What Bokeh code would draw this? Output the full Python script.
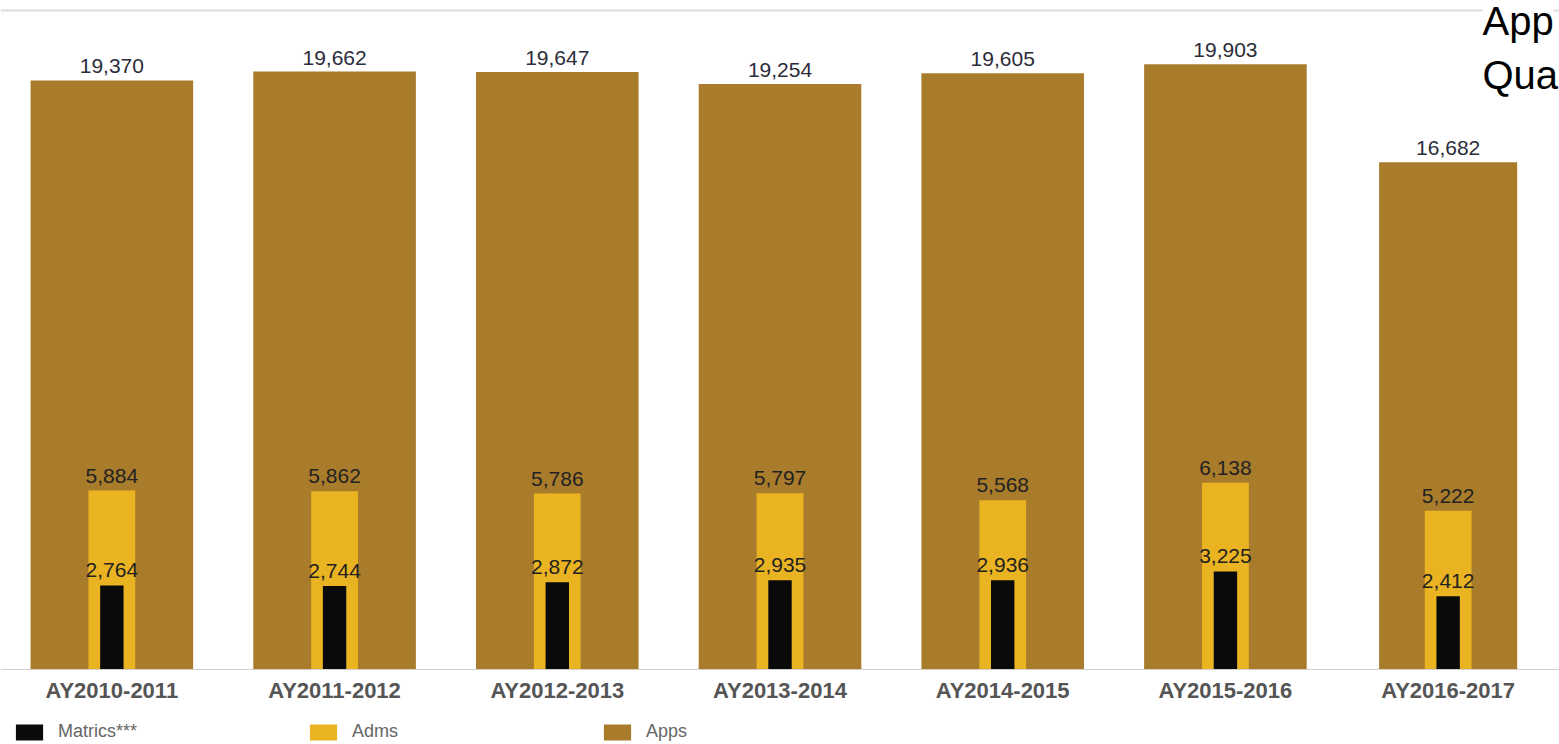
from bokeh.plotting import figure
from bokeh.models import (ColumnDataSource, FactorRange, Range1d, Legend,
                          LegendItem, Label, Span)
from bokeh.core.properties import value
from bokeh.embed import file_html
from bokeh.resources import INLINE

# Academic-year admissions funnel
years = ["AY2010-2011", "AY2011-2012", "AY2012-2013", "AY2013-2014",
         "AY2014-2015", "AY2015-2016", "AY2016-2017"]
apps = [19370, 19662, 19647, 19254, 19605, 19903, 16682]
adms = [5884, 5862, 5786, 5797, 5568, 6138, 5222]
matrics = [2764, 2744, 2872, 2935, 2936, 3225, 2412]
series_names = ["Matrics***", "Adms", "Apps"]

APPS_COLOR = "#A97C2C"
ADMS_COLOR = "#EAB321"
MATRICS_COLOR = "#0A0A0A"
FONT = "Liberation Sans"

W, H = 1559, 744
PLOT_BOTTOM_PX = 669          # pixel row of the bar baseline
Y_TOP = 22000
y_per_px = Y_TOP / PLOT_BOTTOM_PX
Y_BOTTOM = -(H - PLOT_BOTTOM_PX) * y_per_px   # room for axis + legend

src = ColumnDataSource(dict(
    years=years,
    apps=apps,
    adms=adms,
    matrics=matrics,
    apps_txt=[f"{v:,}" for v in apps],
    adms_txt=[f"{v:,}" for v in adms],
    matrics_txt=[f"{v:,}" for v in matrics],
    apps_w=[0.73] * 6 + [0.62],
))

p = figure(x_range=FactorRange(*years, range_padding=0),
           y_range=Range1d(Y_BOTTOM, Y_TOP),
           width=W, height=H,
           y_axis_location=None,
           output_backend="svg", toolbar_location=None,
           min_border_left=0, min_border_right=0,
           min_border_top=0, min_border_bottom=0)
p.outline_line_color = None
p.grid.visible = False
p.background_fill_color = "white"

# thin rule across the top of the chart
p.add_layout(Span(location=Y_TOP - 10 * y_per_px, dimension="width",
                  line_color="#dcdcdc", line_width=2))

r_apps = p.vbar(x="years", top="apps", bottom=0, width="apps_w", source=src,
                fill_color=APPS_COLOR, line_color=None)
r_adms = p.vbar(x="years", top="adms", bottom=0, width=0.21, source=src,
                fill_color=ADMS_COLOR, line_color=None)
r_mat = p.vbar(x="years", top="matrics", bottom=0, width=0.105, source=src,
               fill_color=MATRICS_COLOR, line_color=None)

label_style = dict(text_align="center", text_baseline="bottom",
                   text_font=value(FONT), text_font_size="21px",
                   source=src)
p.text(x="years", y="apps", text="apps_txt", y_offset=-7,
       text_color="#2c2c3a", **label_style)
p.text(x="years", y="adms", text="adms_txt", y_offset=-8,
       text_color="#222222", **label_style)
p.text(x="years", y="matrics", text="matrics_txt", y_offset=-8,
       text_color="#222222", **label_style)

# category axis pinned to the zero line
ax = p.xaxis[0]
ax.fixed_location = 0
ax.axis_line_color = "#cfcfcf"
ax.axis_line_width = 1
ax.major_tick_line_color = None
ax.minor_tick_line_color = None
ax.major_tick_out = 0
ax.major_tick_in = 0
ax.major_label_standoff = 8
ax.major_label_text_font = FONT
ax.major_label_text_font_style = "bold"
ax.major_label_text_font_size = "22px"
ax.major_label_text_color = "#555555"

legend = Legend(items=[LegendItem(label=series_names[0], renderers=[r_mat]),
                       LegendItem(label=series_names[1], renderers=[r_adms]),
                       LegendItem(label=series_names[2], renderers=[r_apps])],
                orientation="horizontal", location=(12, 2),
                glyph_width=34, glyph_height=20, label_standoff=12,
                label_width=240, spacing=8, padding=0, margin=0,
                border_line_color=None, background_fill_alpha=0,
                label_text_font=FONT, label_text_font_size="18px",
                label_text_color="#666666")
p.add_layout(legend)

# heading, partly running off the right edge
for txt, yy in (("App", 724), ("Qua", 670)):
    p.add_layout(Label(x=1482, y=yy, x_units="screen", y_units="screen",
                       text=txt, text_font=FONT, text_font_size="40px",
                       text_color="#000000", text_baseline="alphabetic",
                       background_fill_color="white"))

open("out.html", "w").write(file_html(p, INLINE))
